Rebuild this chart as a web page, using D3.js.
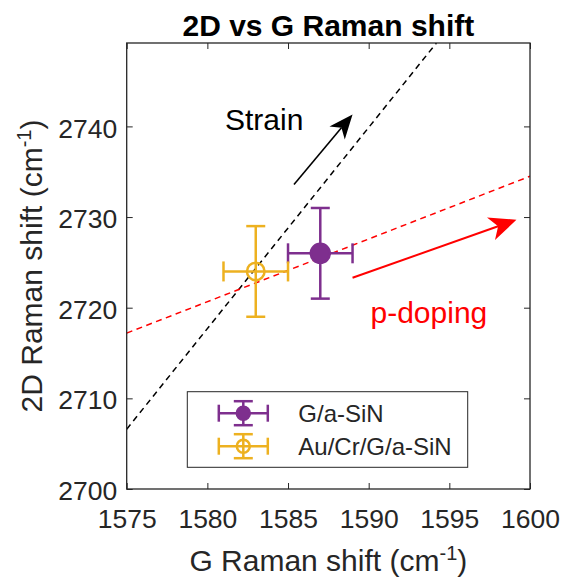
<!DOCTYPE html>
<html>
<head>
<meta charset="utf-8">
<script src="https://cdn.jsdelivr.net/npm/d3@7"></script>
<style>
  body { margin: 0; background: #fff; }
  svg { display: block; font-family: "Liberation Sans", Arial, Helvetica, sans-serif; }
</style>
</head>
<body>
<svg id="chart" width="563" height="581"></svg>
<script>
// data
const samples = ["G/a-SiN", "Au/Cr/G/a-SiN"]
const gShift = [1587.0, 1583.0]
const gErr = [2, 2]
const twoDShift = [2726, 2724]
const twoDErr = [5, 5]
const sampleColors = ["#7E2F8E", "#EDB120"]
const sampleFilled = [true, false]

const xTicks = [1575, 1580, 1585, 1590, 1595, 1600]
const yTicks = [2700, 2710, 2720, 2730, 2740]
const xDomain = [1575, 1600]
const yDomain = [2700, 2749.2]

// reference lines (dashed): strain and doping
const strainLine = [[1575, 2706.6], [1594.2, 2749.2]]
const dopingLine = [[1575, 2717.2], [1600, 2734.5]]
// annotation arrows [from, to]
const strainArrow = [[1585.37, 2733.6], [1589.0, 2741.3]]
const dopingArrow = [[1589.0, 2723.3], [1599.16, 2729.7]]

const width = 563, height = 581
const margin = {top: 43, right: 33, bottom: 92, left: 126.7}
const plotWidth = width - margin.left - margin.right
const plotHeight = height - margin.top - margin.bottom
const axisColor = "#262626"

const svg = d3.select("#chart")
const plot = svg.append("g").attr("transform", `translate(${margin.left},${margin.top})`)

const x = d3.scaleLinear().domain(xDomain).range([0, plotWidth])
const y = d3.scaleLinear().domain(yDomain).range([plotHeight, 0])

svg.append("defs").append("clipPath").attr("id", "clip")
  .append("rect").attr("width", plotWidth).attr("height", plotHeight)

// axes (ticks inside, box on)
const styleAxis = g => {
  g.select(".domain").remove()
  g.selectAll(".tick line").attr("stroke", axisColor).attr("stroke-width", 1)
  g.selectAll(".tick text").attr("fill", axisColor).style("font-size", "26.5px")
}
const fmt = d3.format("d")
plot.append("g")
  .attr("transform", `translate(0,${plotHeight})`)
  .call(d3.axisBottom(x).tickValues(xTicks).tickFormat(fmt).tickSizeInner(-6).tickSizeOuter(0).tickPadding(20))
  .call(styleAxis)
plot.append("g")
  .call(d3.axisTop(x).tickValues(xTicks).tickSizeInner(-6).tickSizeOuter(0).tickFormat(""))
  .call(styleAxis)
plot.append("g")
  .call(d3.axisLeft(y).tickValues(yTicks).tickFormat(fmt).tickSizeInner(-6).tickSizeOuter(0).tickPadding(9.5))
  .call(styleAxis)
  .selectAll(".tick text").attr("dy", "0.4em")
plot.append("g")
  .attr("transform", `translate(${plotWidth},0)`)
  .call(d3.axisRight(y).tickValues(yTicks).tickSizeInner(-6).tickSizeOuter(0).tickFormat(""))
  .call(styleAxis)

// dashed guide lines
const line = d3.line().x(d => x(d[0])).y(d => y(d[1]))
const lines = plot.append("g").attr("clip-path", "url(#clip)")
lines.append("path").datum(strainLine)
  .attr("d", line).attr("fill", "none").attr("stroke", "#000")
  .attr("stroke-width", 1.5).attr("stroke-dasharray", "6,4.5")
lines.append("path").datum(dopingLine)
  .attr("d", line).attr("fill", "none").attr("stroke", "#ff0000")
  .attr("stroke-width", 1.5).attr("stroke-dasharray", "6,4.5")

// arrows
function drawArrow(pts, color, lw, headLen, headHalf) {
  const x0 = x(pts[0][0]), y0 = y(pts[0][1]), x1 = x(pts[1][0]), y1 = y(pts[1][1])
  const len = Math.hypot(x1 - x0, y1 - y0)
  const ux = (x1 - x0) / len, uy = (y1 - y0) / len
  const px = -uy, py = ux
  const bx = x1 - ux * headLen, by = y1 - uy * headLen
  const ix = x1 - ux * headLen * 0.72, iy = y1 - uy * headLen * 0.72
  plot.append("line")
    .attr("x1", x0).attr("y1", y0).attr("x2", ix).attr("y2", iy)
    .attr("stroke", color).attr("stroke-width", lw)
  plot.append("path")
    .attr("d", `M${x1},${y1}L${bx + px * headHalf},${by + py * headHalf}L${ix},${iy}L${bx - px * headHalf},${by - py * headHalf}Z`)
    .attr("fill", color)
}
drawArrow(strainArrow, "#000", 1.6, 24, 10)
drawArrow(dopingArrow, "#ff0000", 2, 27, 12)

plot.append("text").attr("x", 225 - margin.left).attr("y", 129.5 - margin.top)
  .style("font-size", "30px").attr("fill", "#000").text("Strain")
plot.append("text").attr("x", 370.5 - margin.left).attr("y", 323 - margin.top)
  .style("font-size", "30px").attr("fill", "#ff0000").text("p-doping")

// error bars with markers
function errorBar(g, cx, cy, xl, xr, yt, yb, color, filled, r, capV, capH, lw) {
  g.append("line").attr("x1", xl).attr("x2", xr).attr("y1", cy).attr("y2", cy)
  g.append("line").attr("x1", cx).attr("x2", cx).attr("y1", yt).attr("y2", yb)
  g.append("line").attr("x1", cx - capV).attr("x2", cx + capV).attr("y1", yt).attr("y2", yt)
  g.append("line").attr("x1", cx - capV).attr("x2", cx + capV).attr("y1", yb).attr("y2", yb)
  g.append("line").attr("x1", xl).attr("x2", xl).attr("y1", cy - capH).attr("y2", cy + capH)
  g.append("line").attr("x1", xr).attr("x2", xr).attr("y1", cy - capH).attr("y2", cy + capH)
  g.selectAll("line").attr("stroke", color).attr("stroke-width", lw)
  g.append("circle").attr("cx", cx).attr("cy", cy).attr("r", r)
    .attr("fill", filled ? color : "none").attr("stroke", color).attr("stroke-width", lw)
}
samples.forEach((s, i) => {
  const g = plot.append("g")
  errorBar(g, x(gShift[i]), y(twoDShift[i]),
    x(gShift[i] - gErr[i]), x(gShift[i] + gErr[i]),
    y(twoDShift[i] + twoDErr[i]), y(twoDShift[i] - twoDErr[i]),
    sampleColors[i], sampleFilled[i], sampleFilled[i] ? 9.5 : 8.8, 9.5, 10, 2.5)
})

// legend
const legend = svg.append("g").attr("transform", "translate(187.3,391.7)")
legend.append("rect").attr("width", 280.4).attr("height", 75.6)
  .attr("fill", "#fff").attr("stroke", axisColor).attr("stroke-width", 1)
samples.forEach((s, i) => {
  const cy = 21.5 + i * 33
  const g = legend.append("g")
  errorBar(g, 56, cy, 31.5, 80.5, cy - 12, cy + 12,
    sampleColors[i], sampleFilled[i], 6.5, 9.5, 8.5, 2.5)
  legend.append("text").attr("x", 111).attr("y", cy + 8.5)
    .style("font-size", "24px").attr("fill", axisColor).text(s)
})

// frame
plot.append("rect").attr("width", plotWidth).attr("height", plotHeight)
  .attr("fill", "none").attr("stroke", axisColor).attr("stroke-width", 1.3)

// title and labels
svg.append("text").attr("x", margin.left + plotWidth / 2).attr("y", 35.5)
  .attr("text-anchor", "middle").style("font-size", "30px").style("font-weight", "bold")
  .attr("fill", "#000").text("2D vs G Raman shift")

const xl = svg.append("text").attr("x", margin.left + plotWidth / 2).attr("y", 571)
  .attr("text-anchor", "middle").style("font-size", "30px").attr("fill", axisColor)
xl.append("tspan").text("G Raman shift (cm")
xl.append("tspan").attr("dy", -11).style("font-size", "20px").text("-1")
xl.append("tspan").attr("dy", 11).text(")")

const yl = svg.append("text").attr("transform", `translate(42,${margin.top + plotHeight / 2}) rotate(-90)`)
  .attr("text-anchor", "middle").style("font-size", "30px").attr("fill", axisColor)
yl.append("tspan").text("2D Raman shift (cm")
yl.append("tspan").attr("dy", -11).style("font-size", "20px").text("-1")
yl.append("tspan").attr("dy", 11).text(")")
</script>
</body>
</html>
